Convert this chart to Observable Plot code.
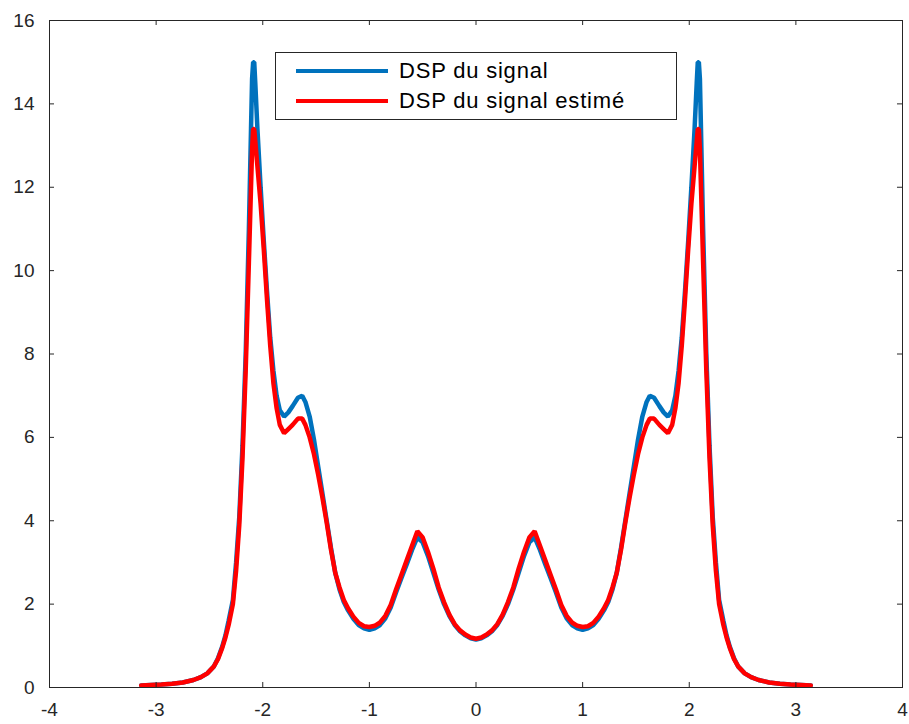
<!DOCTYPE html>
<html>
<head>
<meta charset="utf-8">
<script src="https://cdn.jsdelivr.net/npm/d3@7"></script>
<script src="https://cdn.jsdelivr.net/npm/@observablehq/plot@0.6"></script>
<style>
  html, body { margin: 0; padding: 0; background: #fff; }
  #chart { position: relative; width: 909px; height: 724px; font-family: "Liberation Sans", Arial, Helvetica, sans-serif; }
  #legend {
    position: absolute; left: 275px; top: 52px; width: 402px; height: 68px;
    border: 1px solid #262626; background: #fff; box-sizing: border-box;
  }
  .row { position: absolute; left: 0; height: 30px; display: flex; align-items: center; }
  .swatch { width: 92px; height: 4px; margin-left: 20px; margin-right: 11px; }
  .label { font-size: 22px; letter-spacing: 0.8px; color: #000; white-space: nowrap; }
</style>
</head>
<body>
<div id="chart"></div>
<script>
// Frequency axis (rad/sample), from -pi to pi
const freq = [
  -3.14, -3.05, -2.95, -2.85, -2.75, -2.65, -2.58, -2.52, -2.46, -2.42, -2.38, -2.35,
  -2.32, -2.28, -2.25, -2.22, -2.19, -2.16, -2.13, -2.11, -2.10, -2.09, -2.08, -2.07,
  -2.05, -2.02, -1.99, -1.96, -1.93, -1.90, -1.87, -1.84, -1.80, -1.76, -1.72, -1.67,
  -1.63, -1.60, -1.56, -1.52, -1.48, -1.44, -1.40, -1.36, -1.32, -1.28, -1.24, -1.20,
  -1.15, -1.10, -1.05, -1.00, -0.95, -0.90, -0.85, -0.80, -0.75, -0.70, -0.65, -0.60,
  -0.55, -0.50, -0.45, -0.40, -0.35, -0.30, -0.25, -0.20, -0.15, -0.10, -0.05, 0,
  0.05, 0.10, 0.15, 0.20, 0.25, 0.30, 0.35, 0.40, 0.45, 0.50, 0.55, 0.60,
  0.65, 0.70, 0.75, 0.80, 0.85, 0.90, 0.95, 1.00, 1.05, 1.10, 1.15, 1.20,
  1.24, 1.28, 1.32, 1.36, 1.40, 1.44, 1.48, 1.52, 1.56, 1.60, 1.63, 1.67,
  1.72, 1.76, 1.80, 1.84, 1.87, 1.90, 1.93, 1.96, 1.99, 2.02, 2.05, 2.07,
  2.08, 2.09, 2.10, 2.11, 2.13, 2.16, 2.19, 2.22, 2.25, 2.28, 2.32, 2.35,
  2.38, 2.42, 2.46, 2.52, 2.58, 2.65, 2.75, 2.85, 2.95, 3.05, 3.14
];

// Power spectral density of the signal
const dspSignal = [
  0.05, 0.06, 0.07, 0.09, 0.12, 0.18, 0.25, 0.34, 0.5, 0.7, 0.98, 1.25,
  1.6, 2.1, 3.0, 4.1, 5.8, 8.0, 11.0, 13.4, 14.6, 15.0, 15.0, 14.5,
  13.4, 12.0, 10.7, 9.5, 8.4, 7.6, 7.0, 6.65, 6.5, 6.6, 6.75, 6.95,
  7.0, 6.85, 6.5, 5.95, 5.3, 4.65, 4.0, 3.35, 2.75, 2.35, 2.05, 1.85,
  1.65, 1.5, 1.42, 1.38, 1.42, 1.5, 1.66, 1.92, 2.28, 2.62, 2.95, 3.3,
  3.6, 3.48, 3.15, 2.75, 2.35, 2.0, 1.72, 1.5, 1.35, 1.25, 1.18, 1.15,
  1.18, 1.25, 1.35, 1.5, 1.72, 2.0, 2.35, 2.75, 3.15, 3.48, 3.6, 3.3,
  2.95, 2.62, 2.28, 1.92, 1.66, 1.5, 1.42, 1.38, 1.42, 1.5, 1.65, 1.85,
  2.05, 2.35, 2.75, 3.35, 4.0, 4.65, 5.3, 5.95, 6.5, 6.85, 7.0, 6.95,
  6.75, 6.6, 6.5, 6.65, 7.0, 7.6, 8.4, 9.5, 10.7, 12.0, 13.4, 14.5,
  15.0, 15.0, 14.6, 13.4, 11.0, 8.0, 5.8, 4.1, 3.0, 2.1, 1.6, 1.25,
  0.98, 0.7, 0.5, 0.34, 0.25, 0.18, 0.12, 0.09, 0.07, 0.06, 0.05
];

// Estimated power spectral density
const dspEstime = [
  0.05, 0.06, 0.07, 0.09, 0.12, 0.18, 0.25, 0.34, 0.5, 0.68, 0.95, 1.2,
  1.5, 2.0, 2.8, 3.9, 5.5, 7.6, 10.2, 12.0, 12.9, 13.4, 13.4, 13.1,
  12.5, 11.6, 10.5, 9.3, 8.2, 7.3, 6.7, 6.3, 6.1, 6.2, 6.3, 6.45,
  6.45, 6.3, 6.0, 5.6, 5.1, 4.55, 3.95, 3.3, 2.75, 2.4, 2.1, 1.9,
  1.7, 1.55, 1.47, 1.45, 1.48, 1.56, 1.72, 1.98, 2.35, 2.7, 3.05, 3.4,
  3.75, 3.6, 3.25, 2.85, 2.4, 2.05, 1.75, 1.52, 1.37, 1.27, 1.2, 1.17,
  1.2, 1.27, 1.37, 1.52, 1.75, 2.05, 2.4, 2.85, 3.25, 3.6, 3.75, 3.4,
  3.05, 2.7, 2.35, 1.98, 1.72, 1.56, 1.48, 1.45, 1.47, 1.55, 1.7, 1.9,
  2.1, 2.4, 2.75, 3.3, 3.95, 4.55, 5.1, 5.6, 6.0, 6.3, 6.45, 6.45,
  6.3, 6.2, 6.1, 6.3, 6.7, 7.3, 8.2, 9.3, 10.5, 11.6, 12.5, 13.1,
  13.4, 13.4, 12.9, 12.0, 10.2, 7.6, 5.5, 3.9, 2.8, 2.0, 1.5, 1.2,
  0.95, 0.68, 0.5, 0.34, 0.25, 0.18, 0.12, 0.09, 0.07, 0.06, 0.05
];

const xTicks = [-4, -3, -2, -1, 0, 1, 2, 3, 4];
const yTicks = [0, 2, 4, 6, 8, 10, 12, 14, 16];
const seriesNames = ["DSP du signal", "DSP du signal estimé"];
const seriesColors = ["#0072BD", "#FF0000"];

const signal = freq.map((f, i) => ({f, v: dspSignal[i]}));
const estime = freq.map((f, i) => ({f, v: dspEstime[i]}));

const axisColor = "#262626";
const fontSize = 19;
const xDom = [-4, 4], yDom = [0, 16];
// inward tick length in data units (about 5px)
const tickLenY = 0.12, tickLenX = 0.047;

const plot = Plot.plot({
  width: 909,
  height: 724,
  marginLeft: 49,
  marginRight: 7,
  marginTop: 20,
  marginBottom: 37,
  style: {fontFamily: '"Liberation Sans", Arial, Helvetica, sans-serif', background: "#fff"},
  x: {domain: xDom},
  y: {domain: yDom},
  marks: [
    Plot.line(signal, {x: "f", y: "v", stroke: seriesColors[0], strokeWidth: 4.5, strokeLinejoin: "miter"}),
    Plot.line(estime, {x: "f", y: "v", stroke: seriesColors[1], strokeWidth: 4.5, strokeLinejoin: "miter"}),
    Plot.frame({stroke: axisColor, strokeWidth: 1}),
    // inward ticks on all four sides
    Plot.ruleX(xTicks.slice(1, -1), {x: d => d, y1: yDom[0], y2: yDom[0] + tickLenY, stroke: axisColor}),
    Plot.ruleX(xTicks.slice(1, -1), {x: d => d, y1: yDom[1], y2: yDom[1] - tickLenY, stroke: axisColor}),
    Plot.ruleY(yTicks.slice(1, -1), {y: d => d, x1: xDom[0], x2: xDom[0] + tickLenX, stroke: axisColor}),
    Plot.ruleY(yTicks.slice(1, -1), {y: d => d, x1: xDom[1], x2: xDom[1] - tickLenX, stroke: axisColor}),
    Plot.axisX({ticks: xTicks, tickSize: 0, tickPadding: 15, tickFormat: d => String(d), fontSize, fill: axisColor, label: null}),
    Plot.axisY({ticks: yTicks, tickSize: 0, tickPadding: 15, tickFormat: d => String(d), fontSize, fill: axisColor, label: null})
  ]
});

const chart = document.getElementById("chart");
chart.appendChild(plot);

// Legend box
const legend = document.createElement("div");
legend.id = "legend";
seriesNames.forEach((name, i) => {
  const row = document.createElement("div");
  row.className = "row";
  row.style.top = (3 + i * 30) + "px";
  const sw = document.createElement("div");
  sw.className = "swatch";
  sw.style.background = seriesColors[i];
  const lab = document.createElement("span");
  lab.className = "label";
  lab.textContent = name;
  row.appendChild(sw);
  row.appendChild(lab);
  legend.appendChild(row);
});
chart.appendChild(legend);
</script>
</body>
</html>
